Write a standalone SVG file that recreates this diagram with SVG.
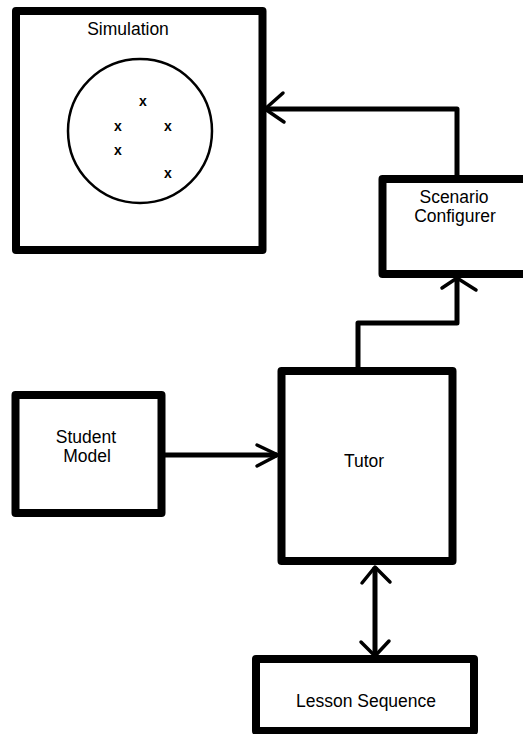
<svg xmlns="http://www.w3.org/2000/svg" width="523" height="734" viewBox="0 0 523 734">
<style>
.box{fill:#fff;stroke:#000;stroke-width:8;stroke-linejoin:round}
.lbl{font-family:"Liberation Sans",Arial,sans-serif;font-size:17.5px;fill:#000;text-anchor:middle}
.x{font-family:"Liberation Sans",Arial,sans-serif;font-size:14px;font-weight:bold;fill:#000;text-anchor:middle}
.conn{fill:none;stroke:#000;stroke-width:5;stroke-linejoin:round}
.head{fill:none;stroke:#000;stroke-width:3.5;stroke-linecap:round;stroke-linejoin:round}
</style>
<rect width="523" height="734" fill="#fff"/>
<g id="simulation">
<rect class="box" x="16" y="11" width="246.5" height="239"/>
<text class="lbl" x="128" y="35">Simulation</text>
<circle cx="140" cy="131" r="72" fill="none" stroke="#000" stroke-width="2.5"/>
<text class="x" x="143" y="106">x</text>
<text class="x" x="118" y="131">x</text>
<text class="x" x="168" y="131">x</text>
<text class="x" x="118" y="155">x</text>
<text class="x" x="168" y="178">x</text>
</g>
<g id="scenario-configurer">
<rect class="box" x="382.5" y="179" width="150" height="95"/>
<text class="lbl" x="454" y="203">Scenario</text>
<text class="lbl" x="455" y="222">Configurer</text>
</g>
<g id="student-model">
<rect class="box" x="15.5" y="395" width="146" height="118"/>
<text class="lbl" x="86" y="443">Student</text>
<text class="lbl" x="87" y="462">Model</text>
</g>
<g id="tutor">
<rect class="box" x="281.5" y="371" width="171" height="190"/>
<text class="lbl" x="364" y="467">Tutor</text>
</g>
<g id="lesson-sequence">
<rect class="box" x="256" y="659" width="218" height="72"/>
<text class="lbl" x="366" y="707">Lesson Sequence</text>
</g>
<g id="connectors">
<path class="conn" d="M457 176 V109 H265"/>
<path class="head" d="M283 93 L265 109 L284 122"/>
<path class="conn" d="M358 368 V323 H457 V280"/>
<path class="head" d="M442 288 L457 278 L476 290"/>
<path class="conn" d="M165 455 H277"/>
<path class="head" d="M257 445 L278 455 L257 466"/>
<path class="conn" d="M375 567 V654"/>
<path class="head" d="M362 583 L375 567 L390 582"/>
<path class="head" d="M361 642 L375 656 L389 641"/>
</g>
</svg>
